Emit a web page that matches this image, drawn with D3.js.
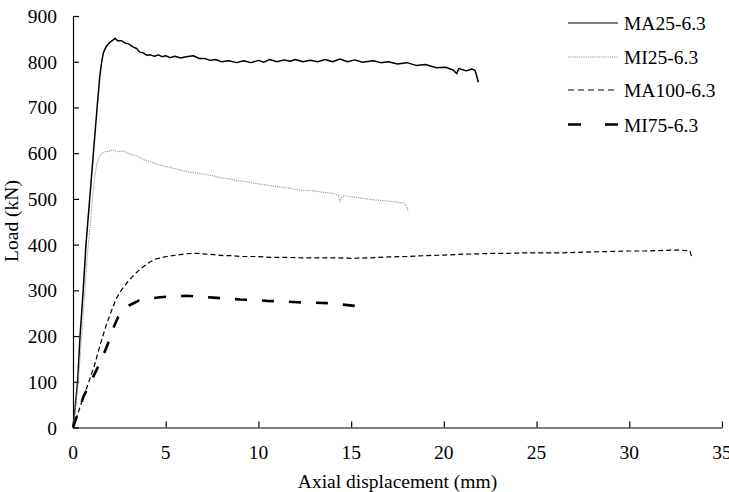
<!DOCTYPE html>
<html>
<head>
<meta charset="utf-8">
<script src="https://cdn.jsdelivr.net/npm/d3@7"></script>
<style>
  body { margin: 0; background: #fff; }
  text { font-family: "Liberation Serif", "Times New Roman", serif; fill: #000; }
</style>
</head>
<body>
<div id="chart"></div>
<script>
// load-displacement curves, [axial displacement (mm), load (kN)]
const ma25 = [[0,0],[0.12,45],[0.25,100],[0.38,200],[0.55,300],[0.7,400],[0.9,500],[1.1,600],[1.3,700],[1.45,770],[1.55,800],
  [1.64,820],[1.8,834],[2.0,843],[2.15,847],[2.27,851],[2.4,846],[2.6,846],[2.8,841],[3.0,839],[3.2,833],[3.43,829],
  [3.6,821],[3.8,819],[4.0,814],[4.15,815],[4.4,812],[4.6,815],[4.8,811],[5.0,813],[5.23,809],[5.5,812],[5.8,808],
  [6.1,811],[6.49,813],[6.8,807],[7.1,807],[7.39,803],[7.7,805],[8.0,800],[8.4,802],[8.83,798],[9.2,802],[9.6,798],
  [10.0,803],[10.3,799],[10.62,805],[11.0,800],[11.4,804],[11.7,801],[12.0,805],[12.4,800],[12.78,803],[13.2,800],
  [13.6,805],[14.0,800],[14.4,806],[14.8,800],[15.2,804],[15.6,799],[16.2,802],[16.6,798],[17.0,800],[17.5,795],
  [18.0,798],[18.5,792],[19.0,794],[19.6,787],[20.1,788],[20.5,782],[20.7,774],[20.8,785],[21.2,780],[21.5,784],
  [21.68,781],[21.75,772],[21.86,755]];

const mi25 = [[0,0],[0.15,50],[0.29,104],[0.45,190],[0.65,301],[0.74,360],[0.85,410],[0.95,450],[1.05,500],[1.15,540],
  [1.28,576],[1.37,586],[1.46,595],[1.6,600],[1.73,603],[1.9,604],[2.17,607],[2.4,603],[2.71,605],[3.0,599],[3.43,594],
  [3.8,586],[4.2,581],[4.7,574],[5.23,569],[5.7,564],[6.2,559],[6.6,557],[7.03,554],[7.5,551],[8.0,546],[8.4,544],
  [8.83,540],[9.3,538],[9.8,534],[10.2,532],[10.62,529],[11.0,527],[11.7,523],[12.24,519],[12.78,518],[13.4,515],
  [14.04,512],[14.3,508],[14.4,494],[14.5,504],[14.67,507],[15.2,504],[15.7,501],[16.2,498],[16.8,496],[17.3,494],
  [17.81,491],[17.95,487],[18.08,473]];

const ma100 = [[0,0],[0.3,35],[0.55,65],[0.83,97],[1.15,135],[1.46,180],[1.8,225],[2.1,258],[2.36,284],[2.6,300],
  [2.9,316],[3.25,332],[3.61,346],[4.15,362],[4.51,369],[5.05,374],[5.59,377],[6.1,380],[6.67,381],[7.2,379],
  [7.6,378],[8.1,376],[8.6,376],[9.0,374],[9.9,374],[10.8,372],[11.6,372],[12.4,371],[13.3,371],[14.2,371],
  [15.0,370],[16.0,371],[17.0,373],[18.0,374],[19.07,376],[20.0,377],[21.0,379],[22.0,380],[22.67,381],[23.5,381],
  [24.5,382],[25.4,382],[26.26,382],[27.2,383],[28.0,384],[29.0,385],[29.86,386],[30.8,386],[31.6,387],[32.3,388],
  [32.73,388],[33.27,386],[33.36,374]];

const mi75 = [[0,0],[0.3,35],[0.56,67],[0.92,97],[1.2,120],[1.55,150],[1.9,185],[2.17,217],[2.44,242],[2.75,258],
  [3.07,268],[3.52,277],[4.1,282],[4.69,285],[5.4,287],[6.13,288],[6.9,286],[7.57,284],[8.3,282],[9.0,280],
  [9.7,279],[10.45,277],[11.2,276],[12.06,274],[12.9,273],[13.68,272],[14.5,269],[15.21,266]];

const seriesNames = ["MA25-6.3", "MI25-6.3", "MA100-6.3", "MI75-6.3"];
const xTicks = [0, 5, 10, 15, 20, 25, 30, 35];
const yTicks = [0, 100, 200, 300, 400, 500, 600, 700, 800, 900];

class LoadChart {

    constructor(parentElement) {
        this.parentElement = parentElement;
        this.initVis();
    }

    initVis() {
        let vis = this;

        vis.width = 729;
        vis.height = 492;

        vis.svg = d3.select(`#${vis.parentElement}`)
            .append("svg")
            .attr("width", vis.width)
            .attr("height", vis.height);

        vis.x = d3.scaleLinear().domain([0, 35]).range([73, 722]);
        vis.y = d3.scaleLinear().domain([0, 900]).range([427.5, 16]);

        // one style per specimen
        vis.styles = [
            {data: ma25, stroke: "#000", width: 1.5, legendWidth: 1.2, dash: null, legendDash: null},
            {data: mi25, stroke: "#9a9a9a", width: 1.1, legendWidth: 1.1, dash: "1.2,1", legendDash: "1.2,1"},
            {data: ma100, stroke: "#000", width: 1.2, legendWidth: 1.2, dash: "5,3", legendDash: "6,4"},
            {data: mi75, stroke: "#000", width: 2.6, legendWidth: 2.6, dash: "12,15", legendDash: "13,24"}
        ];

        vis.drawAxes();
        vis.updateVis();
    }

    drawAxes() {
        let vis = this;

        // x axis, ticks pointing up into the plot
        let xAxis = vis.svg.append("g")
            .attr("transform", `translate(0,${vis.y(0)})`)
            .call(d3.axisBottom(vis.x).tickValues(xTicks).tickSizeInner(-6).tickSizeOuter(0).tickPadding(0));
        xAxis.selectAll("text").remove();
        xAxis.selectAll("path, line").attr("stroke", "#000").attr("stroke-width", 1.2);

        vis.svg.selectAll(".xlab")
            .data(xTicks)
            .enter().append("text")
            .attr("class", "xlab")
            .attr("x", d => vis.x(d))
            .attr("y", 459)
            .attr("text-anchor", "middle")
            .style("font-size", "19.5px")
            .text(d => d);

        // y axis, ticks pointing right
        let yAxis = vis.svg.append("g")
            .attr("transform", `translate(${vis.x(0)},0)`)
            .call(d3.axisLeft(vis.y).tickValues(yTicks).tickSizeInner(-6).tickSizeOuter(0));
        yAxis.selectAll("text").remove();
        yAxis.selectAll("path, line").attr("stroke", "#000").attr("stroke-width", 1.2);

        vis.svg.selectAll(".ylab")
            .data(yTicks)
            .enter().append("text")
            .attr("class", "ylab")
            .attr("x", 57)
            .attr("y", d => vis.y(d) + 7)
            .attr("text-anchor", "end")
            .style("font-size", "19.5px")
            .text(d => d);

        vis.svg.append("text")
            .attr("x", 397.5)
            .attr("y", 488)
            .attr("text-anchor", "middle")
            .style("font-size", "19.5px")
            .text("Axial displacement (mm)");

        vis.svg.append("text")
            .attr("transform", "translate(18,221) rotate(-90)")
            .attr("text-anchor", "middle")
            .style("font-size", "19.5px")
            .text("Load (kN)");
    }

    updateVis() {
        let vis = this;

        const line = d3.line()
            .x(d => vis.x(d[0]))
            .y(d => vis.y(d[1]));

        vis.svg.selectAll(".curve")
            .data(vis.styles)
            .enter().append("path")
            .attr("class", "curve")
            .attr("d", d => line(d.data))
            .attr("fill", "none")
            .attr("stroke", d => d.stroke)
            .attr("stroke-width", d => d.width)
            .attr("stroke-linejoin", "round")
            .attr("stroke-dasharray", d => d.dash);

        // legend
        const rowY = [23, 57, 90, 124.5];
        let legend = vis.svg.selectAll(".legend")
            .data(vis.styles)
            .enter().append("g")
            .attr("class", "legend")
            .attr("transform", (d, i) => `translate(568,${rowY[i]})`);

        legend.append("line")
            .attr("x1", 0).attr("x2", 50)
            .attr("stroke", d => d.stroke)
            .attr("stroke-width", d => d.legendWidth)
            .attr("stroke-dasharray", d => d.legendDash);

        legend.append("text")
            .attr("x", 56)
            .attr("y", 7)
            .style("font-size", "19.5px")
            .text((d, i) => seriesNames[i]);
    }
}

new LoadChart("chart");
</script>
</body>
</html>
